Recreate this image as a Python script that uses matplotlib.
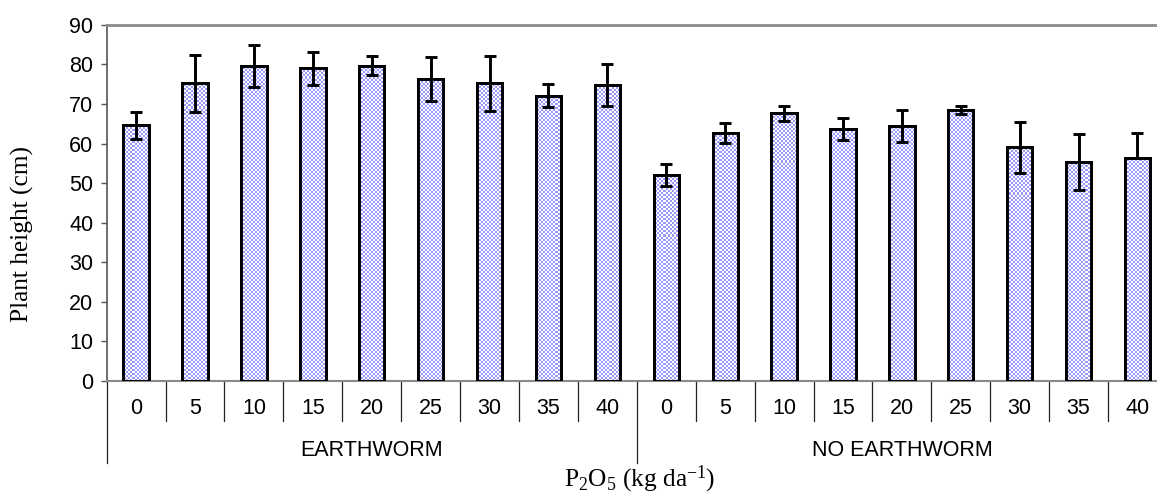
import matplotlib
matplotlib.use("Agg")
import matplotlib.pyplot as plt
import numpy as np

# ---- data ----
groups = ["EARTHWORM", "NO EARTHWORM"]
doses = ["0", "5", "10", "15", "20", "25", "30", "35", "40"]
height_earthworm = [64.6, 75.2, 79.6, 79.0, 79.7, 76.3, 75.2, 72.1, 74.8]
err_earthworm = [3.4, 7.1, 5.4, 4.1, 2.4, 5.5, 7.0, 2.9, 5.3]
height_no_earthworm = [51.9, 62.7, 67.6, 63.7, 64.4, 68.5, 59.0, 55.4, 56.3]
err_no_earthworm_low = [2.7, 2.5, 1.8, 2.8, 4.1, 1.0, 6.4, 7.1, 0.0]
err_no_earthworm_high = [2.8, 2.5, 1.8, 2.7, 4.2, 1.0, 6.4, 7.0, 6.4]
y_ticks = [0, 10, 20, 30, 40, 50, 60, 70, 80, 90]

plt.rcParams['mathtext.fontset'] = 'custom'
plt.rcParams['mathtext.rm'] = 'Liberation Serif'
plt.rcParams['mathtext.it'] = 'Liberation Serif:italic'

values = height_earthworm + height_no_earthworm
err_low = err_earthworm + err_no_earthworm_low
err_high = err_earthworm + err_no_earthworm_high
labels = doses + doses
n = len(values)
x = np.arange(n)

W, H = 1157, 495
fig = plt.figure(figsize=(W / 100, H / 100), dpi=100)
ax_rect = [0.0922, 0.2313, 0.9164, 0.7182]
ax = fig.add_axes(ax_rect)

bars = ax.bar(x, values, width=0.43, color='#c8c8fa', edgecolor='black',
              linewidth=2.1, zorder=2)

# checkered fill texture (2-px cells), clipped to each bar
pw = int(round(ax_rect[2] * W / 2))
ph = int(round(ax_rect[3] * H / 2))
ii, jj = np.indices((ph, pw))
checker = ((ii + jj) % 2).astype(float)
from matplotlib.colors import ListedColormap
cmap = ListedColormap(['#ffffff', '#9a9af6'])
for b in bars:
    im = ax.imshow(checker, extent=(0, 1, 0, 1), transform=ax.transAxes,
                   cmap=cmap, interpolation='nearest', aspect='auto',
                   zorder=2.5, vmin=0, vmax=1)
    im.set_clip_path(b)
    edge = plt.Rectangle(b.get_xy(), b.get_width(), b.get_height(),
                         fill=False, edgecolor='black', linewidth=2.1, zorder=2.6)
    ax.add_patch(edge)

ax.errorbar(x, values, yerr=[err_low, err_high], fmt='none', ecolor='black',
            elinewidth=2.1, capsize=4.5, capthick=2.1, zorder=3)

ax.set_xlim(-0.5, n - 0.5)
ax.set_ylim(0, 90)
ax.set_yticks(y_ticks)
ax.tick_params(axis='y', direction='out', length=4.5, width=1, color='#555555',
               pad=5, labelsize=15.5)
for t in ax.get_yticklabels():
    t.set_fontfamily('Liberation Sans')
ax.set_xticks([])

ax.spines['right'].set_visible(False)
ax.spines['top'].set_color('#8a8a8a')
ax.spines['top'].set_linewidth(2.0)
ax.spines['left'].set_color('#555555')
ax.spines['left'].set_linewidth(1.2)
ax.spines['bottom'].set_color('#8a8a8a')
ax.spines['bottom'].set_linewidth(1.5)

trans = ax.get_xaxis_transform()
# category separators
for i in range(n + 1):
    b = i - 0.5
    length = -0.232 if i % len(doses) == 0 else -0.115
    ax.plot([b, b], [0, length], transform=trans, color='#222222', lw=0.9,
            clip_on=False, zorder=1)

# dose labels
for xi, lab in zip(x, labels):
    ax.text(xi, -0.078, lab, transform=trans, ha='center', va='center',
            fontsize=15.5, family='Liberation Sans')

# group labels
for gi, g in enumerate(groups):
    cx = gi * len(doses) + (len(doses) - 1) / 2
    ax.text(cx, -0.198, g, transform=trans, ha='center', va='center',
            fontsize=15.5, family='Liberation Sans')

fig.text(0.553, 0.031, 'P$_2$O$_5$ (kg da$^{-1}$)', ha='center', va='center',
         fontsize=18.3, family='Liberation Serif')
fig.text(0.019, 0.527, 'Plant height (cm)', ha='center', va='center',
         rotation=90, fontsize=18.3, family='Liberation Serif')

fig.savefig('out.png', dpi=100)
